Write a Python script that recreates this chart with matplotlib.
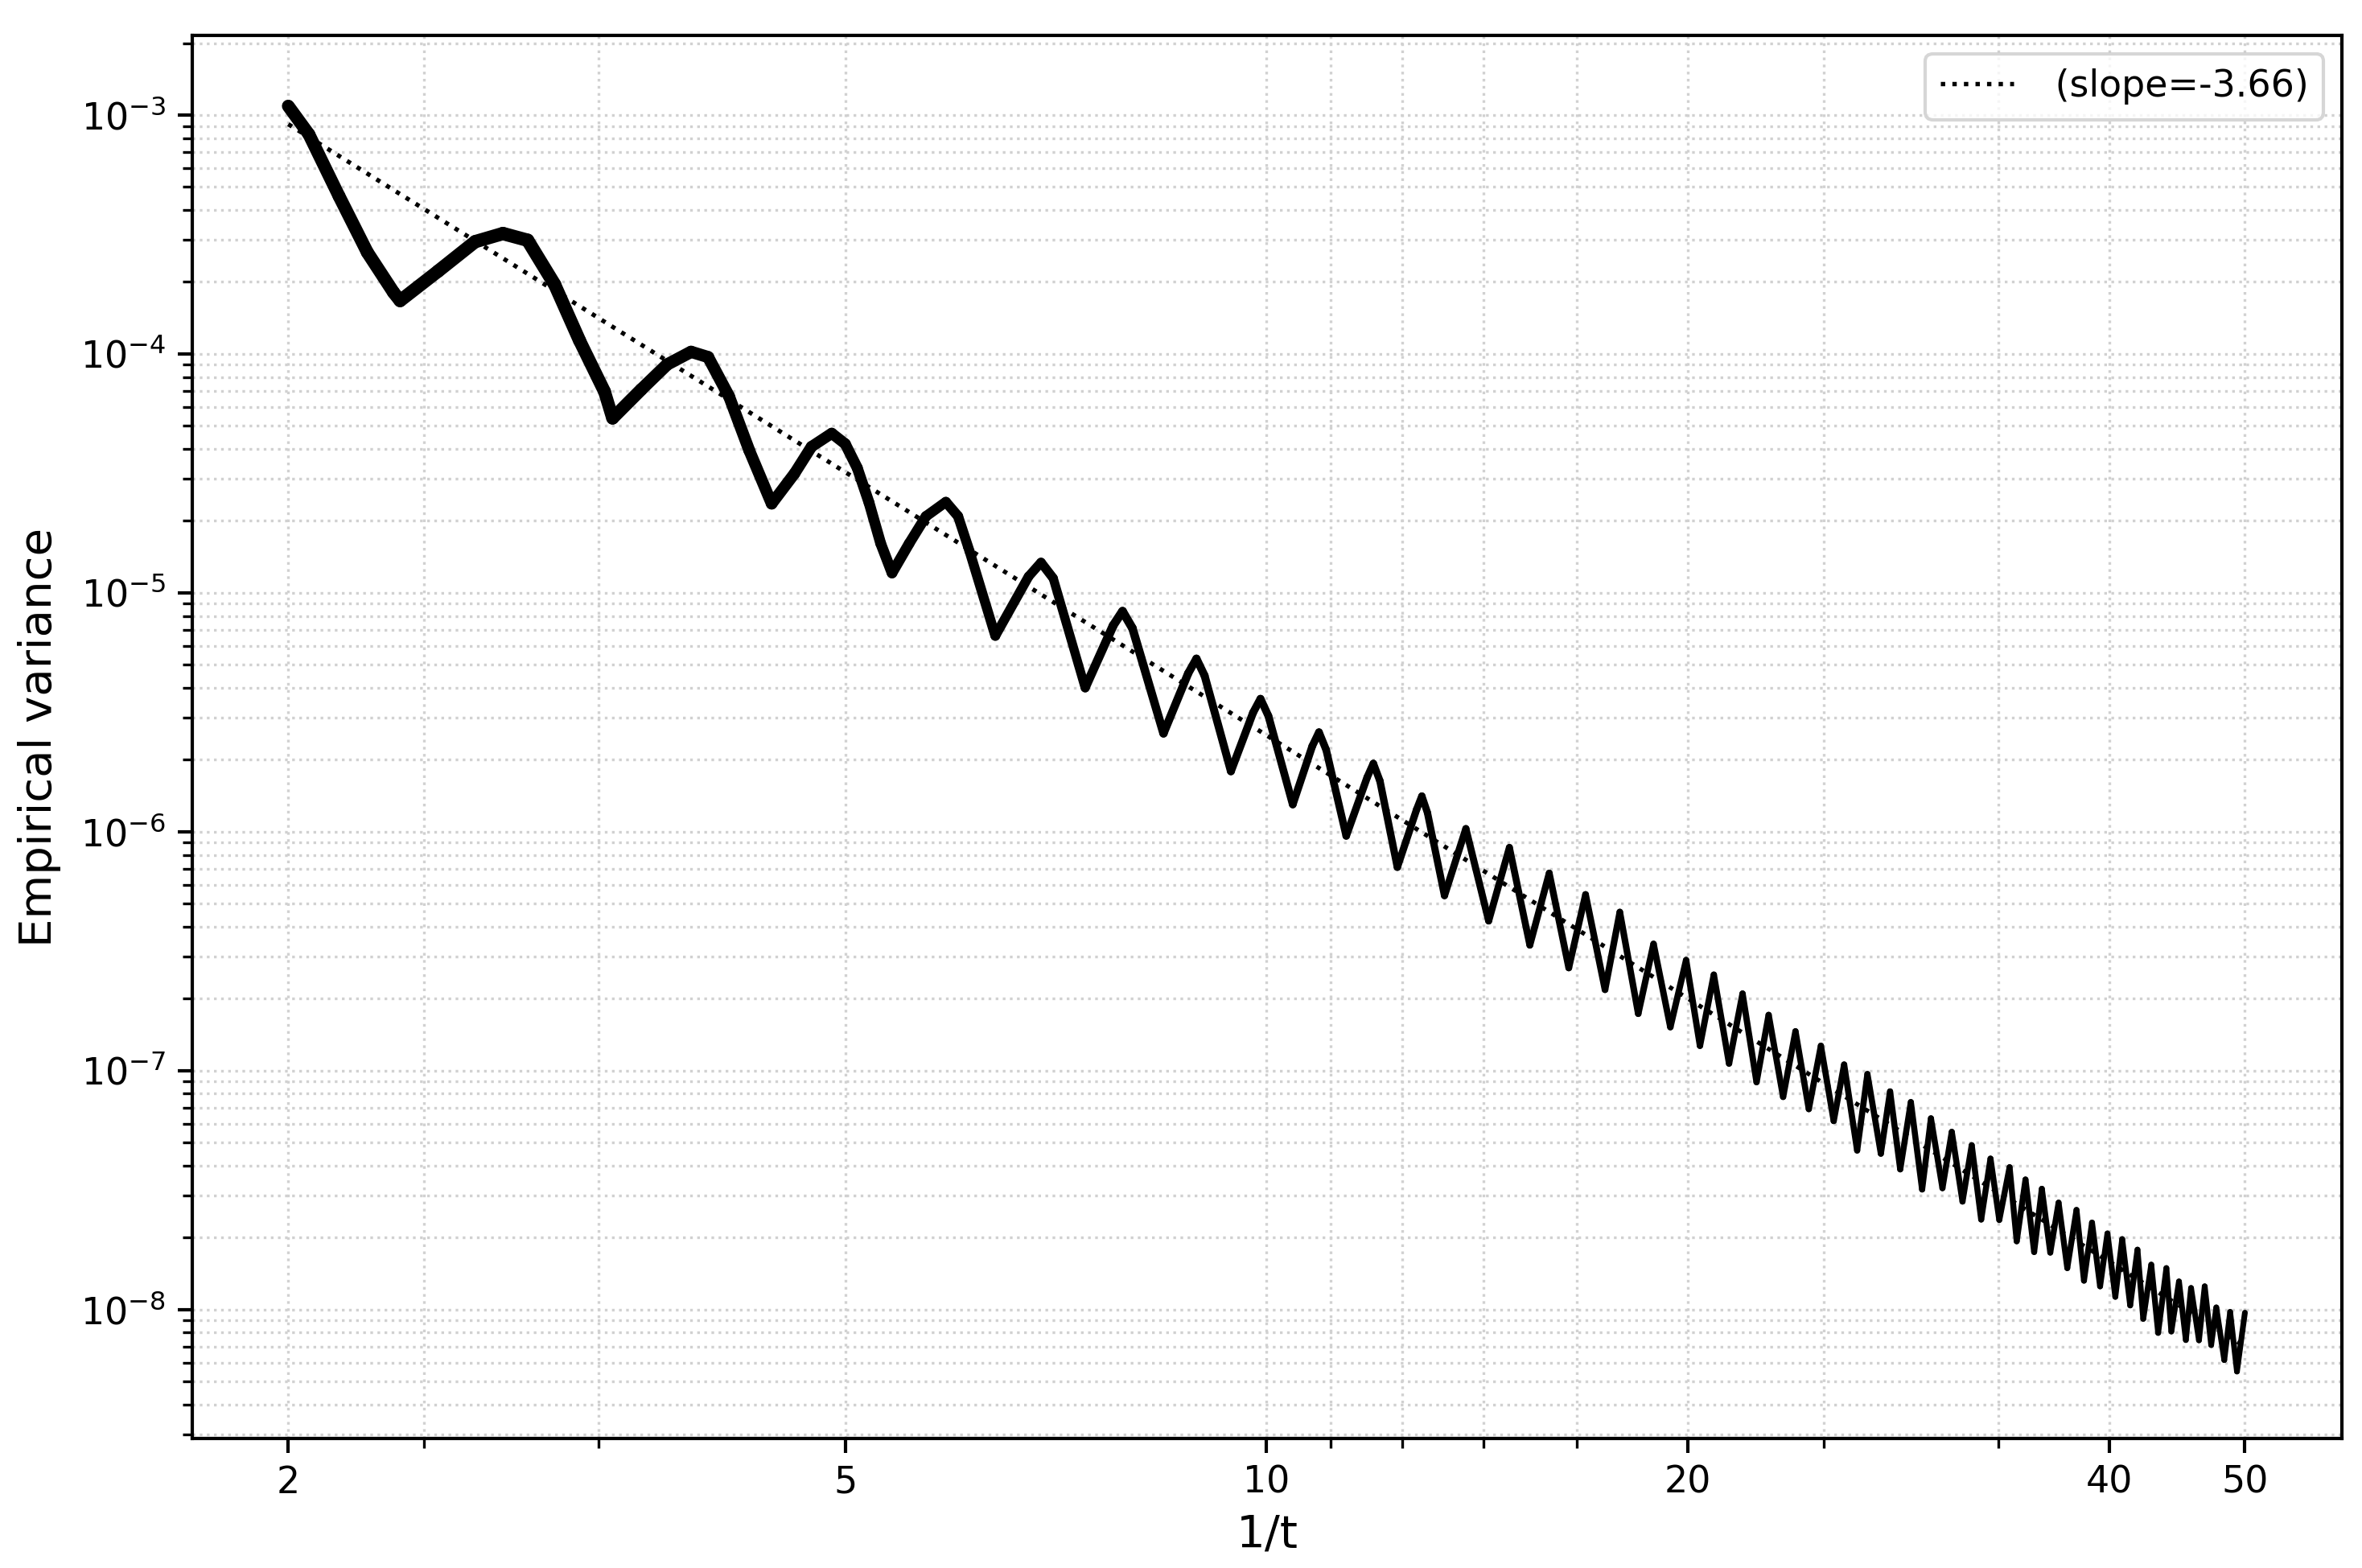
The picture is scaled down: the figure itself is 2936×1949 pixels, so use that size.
import numpy as np
import matplotlib
matplotlib.use("Agg")
import matplotlib.pyplot as plt
from matplotlib.collections import LineCollection
from matplotlib.ticker import FixedLocator, FixedFormatter, NullFormatter, LogLocator

# ---------------- data ----------------
inv_t = [
    2.0, 2.069, 2.174, 2.278, 2.378, 2.404, 2.559, 2.72, 2.847, 2.965,
    3.10, 3.23, 3.365, 3.41, 3.575, 3.73, 3.88, 3.99, 4.13, 4.27,
    4.43, 4.60, 4.73, 4.89, 5.0, 5.10, 5.20, 5.30, 5.40, 5.555,
    5.71, 5.90, 6.02, 6.135, 6.40, 6.76, 6.90, 7.04, 7.42, 7.77,
    7.89, 8.02, 8.44, 8.79, 8.91, 9.03, 9.43, 9.78, 9.90, 10.03,
    10.44, 10.78, 10.9, 11.03, 11.4, 11.8, 11.92, 12.05, 12.4, 12.8,
    12.91, 13.03, 13.4, 13.88,
    14.41, 14.91, 15.42, 15.92, 16.44, 16.90, 17.45, 17.88, 18.43, 18.90,
    19.43, 19.94, 20.4, 20.87, 21.4, 21.88, 22.39, 22.84, 23.39, 23.87,
    24.4, 24.89, 25.42, 25.86, 26.42, 26.87, 27.47, 27.89, 28.36, 28.86,
    29.4, 29.83, 30.4, 30.87, 31.42, 31.9, 32.4, 32.9, 33.38, 33.95,
    34.35, 34.85, 35.35, 35.8, 36.3, 36.8, 37.33, 37.9, 38.37, 38.88,
    39.4, 39.88, 40.4, 40.86, 41.4, 41.9, 42.3, 42.86, 43.35, 43.94,
    44.3, 44.86, 45.37, 45.76, 46.36, 46.8, 47.3, 47.7, 48.33, 48.8,
    49.35, 50.0,
]
variance = [
    1.09e-3, 8.3e-4, 4.58e-4, 2.66e-4, 1.81e-4, 1.67e-4, 2.22e-4, 2.95e-4, 3.19e-4, 2.99e-4,
    1.95e-4, 1.135e-4, 6.95e-5, 5.38e-5, 7.1e-5, 9.03e-5, 1.02e-4, 9.7e-5, 6.64e-5, 3.94e-5,
    2.36e-5, 3.16e-5, 4.09e-5, 4.65e-5, 4.2e-5, 3.33e-5, 2.38e-5, 1.61e-5, 1.21e-5, 1.61e-5,
    2.09e-5, 2.40e-5, 2.09e-5, 1.49e-5, 6.6e-6, 1.17e-5, 1.34e-5, 1.15e-5, 4.0e-6, 7.3e-6,
    8.37e-6, 7.1e-6, 2.58e-6, 4.6e-6, 5.3e-6, 4.5e-6, 1.79e-6, 3.15e-6, 3.6e-6, 3.05e-6,
    1.30e-6, 2.28e-6, 2.61e-6, 2.2e-6, 9.6e-7, 1.69e-6, 1.93e-6, 1.63e-6, 7.1e-7, 1.24e-6,
    1.41e-6, 1.2e-6, 5.4e-7, 1.03e-6,
    4.23e-7, 8.59e-7, 3.35e-7, 6.71e-7, 2.69e-7, 5.46e-7, 2.18e-7, 4.61e-7, 1.73e-7, 3.39e-7,
    1.52e-7, 2.90e-7, 1.27e-7, 2.52e-7, 1.07e-7, 2.10e-7, 8.95e-8, 1.71e-7, 7.76e-8, 1.46e-7,
    6.9e-8, 1.27e-7, 6.15e-8, 1.06e-7, 4.63e-8, 9.67e-8, 4.49e-8, 8.18e-8, 3.86e-8, 7.38e-8,
    3.18e-8, 6.31e-8, 3.22e-8, 5.54e-8, 2.83e-8, 4.87e-8, 2.38e-8, 4.28e-8, 2.37e-8, 3.94e-8,
    1.93e-8, 3.5e-8, 1.74e-8, 3.2e-8, 1.73e-8, 2.8e-8, 1.49e-8, 2.61e-8, 1.32e-8, 2.31e-8,
    1.25e-8, 2.08e-8, 1.13e-8, 1.97e-8, 1.04e-8, 1.78e-8, 9.14e-9, 1.54e-8, 7.98e-9, 1.49e-8,
    8.09e-9, 1.31e-8, 7.45e-9, 1.23e-8, 7.43e-9, 1.25e-8, 7.1e-9, 1.02e-8, 6.14e-9, 9.77e-9,
    5.5e-9, 9.7e-9,
]

fit_x = [2.0, 50.0]
fit_y = [9.15e-4, 7.0e-9]
fit_label = " (slope=-3.66)"

x_major_ticks = [2, 5, 10, 20, 40, 50]
x_major_labels = ["2", "5", "10", "20", "40", "50"]
t_minor = [0.4, 0.3, 0.09, 0.08, 0.07, 0.06, 0.04, 0.03]

# ---------------- figure ----------------
plt.rcParams["font.family"] = ["DejaVu Sans"]
fig = plt.figure(figsize=(2937 / 300, 1949 / 300), dpi=300)
ax = fig.add_axes([0.0814, 0.0826, 0.9098, 0.8948])
ax.set_xscale("log")
ax.set_yscale("log")

xs = np.asarray(inv_t)
ys = np.asarray(variance)
pts = np.column_stack([xs, ys])
segs = np.stack([pts[:-1], pts[1:]], axis=1)
mid_log = 0.5 * (np.log10(xs[:-1]) + np.log10(xs[1:]))
widths = np.interp(mid_log,
                   np.log10([2, 3, 5, 9, 20, 50]),
                   [3.8, 4.0, 3.3, 2.4, 1.9, 1.7])
lc = LineCollection(segs, linewidths=widths, colors="black",
                    capstyle="round", joinstyle="round", zorder=2)
ax.add_collection(lc)

ax.plot(fit_x, fit_y, linestyle=":", color="black", lw=1.3,
        label=fit_label, zorder=3)

ax.set_xlim(1.708, 58.66)
ax.set_ylim(10 ** -8.54, 10 ** -2.667)

ax.xaxis.set_major_locator(FixedLocator(x_major_ticks))
ax.xaxis.set_major_formatter(FixedFormatter(x_major_labels))
ax.xaxis.set_minor_locator(FixedLocator([1.0 / t for t in t_minor]))
ax.xaxis.set_minor_formatter(NullFormatter())
ax.yaxis.set_major_locator(LogLocator(base=10, numticks=100))
ax.yaxis.set_minor_locator(LogLocator(base=10, subs=np.arange(2, 10), numticks=100))
ax.yaxis.set_minor_formatter(NullFormatter())

ax.grid(True, which="both", linestyle=":", linewidth=0.8, color="0.82", zorder=0)
ax.set_axisbelow(True)
ax.tick_params(which="major", length=4.4, width=1.0, labelsize=11)
ax.tick_params(which="minor", length=2.8, width=0.8)
for s in ax.spines.values():
    s.set_linewidth(1.0)

ax.set_xlabel("1/t", fontsize=13.5)
ax.set_ylabel("Empirical variance", fontsize=13.5)
ax.yaxis.set_label_coords(-0.061, 0.5)
ax.xaxis.set_label_coords(0.5, -0.053)
ax.legend(loc="upper right", fontsize=11)

fig.savefig("out.png", dpi=300)
